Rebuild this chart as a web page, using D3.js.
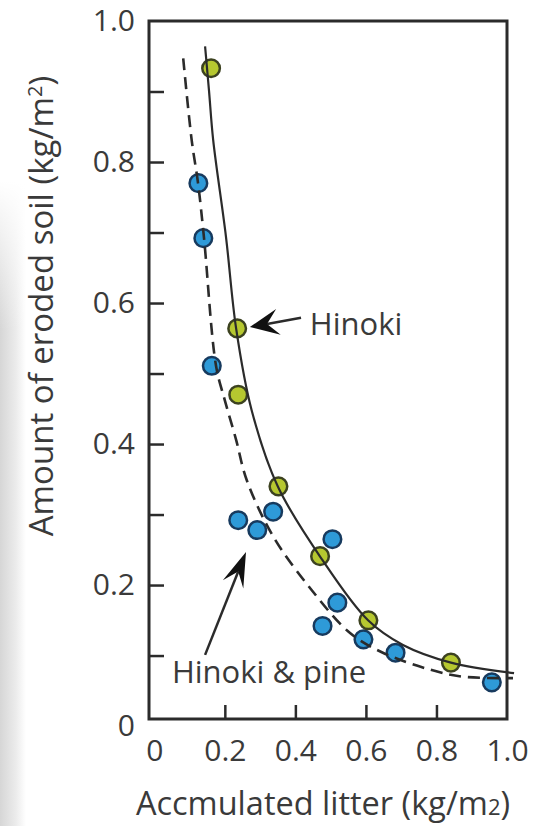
<!DOCTYPE html>
<html>
<head>
<meta charset="utf-8">
<script src="https://cdn.jsdelivr.net/npm/d3@7"></script>
<style>
  body { margin: 0; background: #fff; }
  svg { display: block; font-family: "Open Sans", sans-serif; }
</style>
</head>
<body>
<script>
const width = 537;
const height = 826;

// Hinoki (green dots)
const hinokiX = [0.161, 0.235, 0.238, 0.352, 0.470, 0.607, 0.841];
const hinokiY = [0.933, 0.564, 0.470, 0.340, 0.241, 0.150, 0.090];

// Hinoki & pine (blue dots)
const mixX = [0.125, 0.139, 0.163, 0.238, 0.292, 0.337, 0.505, 0.519, 0.477, 0.593, 0.684, 0.957];
const mixY = [0.770, 0.692, 0.511, 0.292, 0.278, 0.304, 0.265, 0.175, 0.142, 0.123, 0.104, 0.062];

// fitted curves
const hinokiCurveX = [0.144, 0.155, 0.167, 0.203, 0.232, 0.276, 0.351, 0.476, 0.606, 0.705, 0.841, 1.02];
const hinokiCurveY = [0.964, 0.902, 0.831, 0.695, 0.564, 0.448, 0.339, 0.236, 0.150, 0.115, 0.090, 0.075];
const mixCurveX = [0.082, 0.106, 0.124, 0.141, 0.175, 0.200, 0.232, 0.262, 0.337, 0.446, 0.555, 0.648, 0.782, 0.875, 1.017];
const mixCurveY = [0.947, 0.831, 0.770, 0.692, 0.511, 0.462, 0.406, 0.349, 0.269, 0.193, 0.132, 0.104, 0.080, 0.070, 0.068];

// ticks
const xLabelTicks = [0, 0.2, 0.4, 0.6, 0.8, 1.0];
const xMarkTicks = [0.2, 0.4, 0.6, 0.8];
const yLabelTicks = [0, 0.2, 0.4, 0.6, 0.8, 1.0];
const yMarkTicks = [0.1, 0.2, 0.3, 0.4, 0.5, 0.6, 0.7, 0.8, 0.9];

const textColor = "#3a3a3a";
const lineColor = "#2b2b2b";

const svg = d3.select("body")
    .append("svg")
    .attr("width", width)
    .attr("height", height);

// grey page shadow on the left edge, fading out towards the top
const defs = svg.append("defs");
const grad = defs.append("linearGradient").attr("id", "shade");
grad.append("stop").attr("offset", "0%").attr("stop-color", "#d6d6d6");
grad.append("stop").attr("offset", "60%").attr("stop-color", "#ebebeb");
grad.append("stop").attr("offset", "100%").attr("stop-color", "#ffffff");
const vgrad = defs.append("linearGradient").attr("id", "fade")
    .attr("x1", 0).attr("x2", 0).attr("y1", 0).attr("y2", 1);
vgrad.append("stop").attr("offset", "55%").attr("stop-color", "#fff");
vgrad.append("stop").attr("offset", "100%").attr("stop-color", "#fff").attr("stop-opacity", 0);

svg.append("rect").attr("x", 0).attr("y", 0).attr("width", 26).attr("height", height)
    .attr("fill", "url(#shade)");
svg.append("rect").attr("x", 0).attr("y", 0).attr("width", 26).attr("height", 330)
    .attr("fill", "url(#fade)");

const x = d3.scaleLinear().domain([-0.015, 1.0]).range([149, 507]);
const y = d3.scaleLinear().domain([0.01, 1.0]).range([719, 21]);

// frame
svg.append("rect")
    .attr("x", x.range()[0]).attr("y", y.range()[1])
    .attr("width", x.range()[1] - x.range()[0])
    .attr("height", y.range()[0] - y.range()[1])
    .attr("fill", "none")
    .attr("stroke", lineColor)
    .attr("stroke-width", 3);

// tick marks (inward)
svg.append("g")
    .attr("transform", `translate(0,${y.range()[0]})`)
    .call(d3.axisBottom(x).tickValues(xMarkTicks).tickSize(-14).tickFormat(""))
    .call(g => g.select(".domain").remove())
    .call(g => g.selectAll("line").attr("stroke", lineColor).attr("stroke-width", 2.5));

svg.append("g")
    .attr("transform", `translate(${x.range()[0]},0)`)
    .call(d3.axisLeft(y).tickValues(yMarkTicks).tickSize(-15).tickFormat(""))
    .call(g => g.select(".domain").remove())
    .call(g => g.selectAll("line").attr("stroke", lineColor).attr("stroke-width", 2.5));

// tick labels
const fmt = d => d === 0 ? "0" : d3.format(".1f")(d);

svg.append("g")
    .attr("transform", `translate(0,${y.range()[0]})`)
    .call(d3.axisBottom(x).tickValues(xLabelTicks).tickSize(0).tickPadding(21).tickFormat(fmt))
    .call(g => g.select(".domain").remove())
    .call(g => g.selectAll("text")
        .attr("font-family", "Open Sans").attr("font-size", 30).attr("fill", textColor));

svg.append("g")
    .attr("transform", `translate(${x.range()[0]},0)`)
    .call(d3.axisLeft(y).tickValues(yLabelTicks).tickSize(0).tickPadding(14).tickFormat(fmt))
    .call(g => g.select(".domain").remove())
    .call(g => g.selectAll("text")
        .attr("font-family", "Open Sans").attr("font-size", 30).attr("fill", textColor));

// axis titles
const xt = svg.append("text")
    .attr("x", 323).attr("y", 815)
    .attr("text-anchor", "middle")
    .attr("font-size", 32.5)
    .attr("fill", textColor)
    .text("Accmulated litter (kg/m");
xt.append("tspan").attr("font-size", 22).text("2");
xt.append("tspan").text(")");

const yt = svg.append("text")
    .attr("transform", "translate(53,306) rotate(-90)")
    .attr("text-anchor", "middle")
    .attr("font-size", 33)
    .attr("fill", textColor)
    .text("Amount of eroded soil (kg/m");
yt.append("tspan").attr("font-size", 20).attr("dy", -11).text("2");
yt.append("tspan").attr("dy", 11).text(")");

// dots
const hinokiPts = hinokiX.map((d, i) => [d, hinokiY[i]]);
const mixPts = mixX.map((d, i) => [d, mixY[i]]);

svg.append("g").selectAll("circle")
    .data(mixPts)
    .enter()
    .append("circle")
    .attr("cx", d => x(d[0]))
    .attr("cy", d => y(d[1]))
    .attr("r", 8.8)
    .attr("fill", "#2e9ad8")
    .attr("stroke", "#173a5e")
    .attr("stroke-width", 2.5);

svg.append("g").selectAll("circle")
    .data(hinokiPts)
    .enter()
    .append("circle")
    .attr("cx", d => x(d[0]))
    .attr("cy", d => y(d[1]))
    .attr("r", 8.8)
    .attr("fill", "#b6c830")
    .attr("stroke", "#3c4220")
    .attr("stroke-width", 2.5);

// curves
const line = d3.line()
    .x(d => x(d[0]))
    .y(d => y(d[1]))
    .curve(d3.curveCatmullRom.alpha(0.5));

svg.append("path")
    .datum(hinokiCurveX.map((d, i) => [d, hinokiCurveY[i]]))
    .attr("d", line)
    .attr("fill", "none")
    .attr("stroke", lineColor)
    .attr("stroke-width", 2.2);

svg.append("path")
    .datum(mixCurveX.map((d, i) => [d, mixCurveY[i]]))
    .attr("d", line)
    .attr("fill", "none")
    .attr("stroke", lineColor)
    .attr("stroke-width", 2.6)
    .attr("stroke-dasharray", "12,7");

// annotations: arrow from tail to tip, in data units
function arrow(tail, tip, len, half) {
    const x0 = x(tail[0]), y0 = y(tail[1]);
    const x1 = x(tip[0]), y1 = y(tip[1]);
    const dx = x1 - x0, dy = y1 - y0;
    const L = Math.sqrt(dx * dx + dy * dy);
    const ux = dx / L, uy = dy / L;
    const bx = x1 - ux * len, by = y1 - uy * len;
    const nx = x1 - ux * len * 0.6, ny = y1 - uy * len * 0.6;
    svg.append("line")
        .attr("x1", x0).attr("y1", y0).attr("x2", nx).attr("y2", ny)
        .attr("stroke", lineColor).attr("stroke-width", 2.5);
    svg.append("path")
        .attr("d", `M${x1},${y1}L${bx - uy * half},${by + ux * half}L${nx},${ny}L${bx + uy * half},${by - ux * half}Z`)
        .attr("fill", "#111");
}

arrow([0.416, 0.579], [0.271, 0.566], 29, 13);
arrow([0.144, 0.101], [0.260, 0.247], 35, 11);

svg.append("text")
    .attr("x", x(0.441)).attr("y", y(0.555))
    .attr("font-size", 31)
    .attr("fill", textColor)
    .text("Hinoki");

svg.append("text")
    .attr("x", x(0.050)).attr("y", y(0.061))
    .attr("font-size", 31)
    .attr("fill", textColor)
    .text("Hinoki & pine");
</script>
</body>
</html>
